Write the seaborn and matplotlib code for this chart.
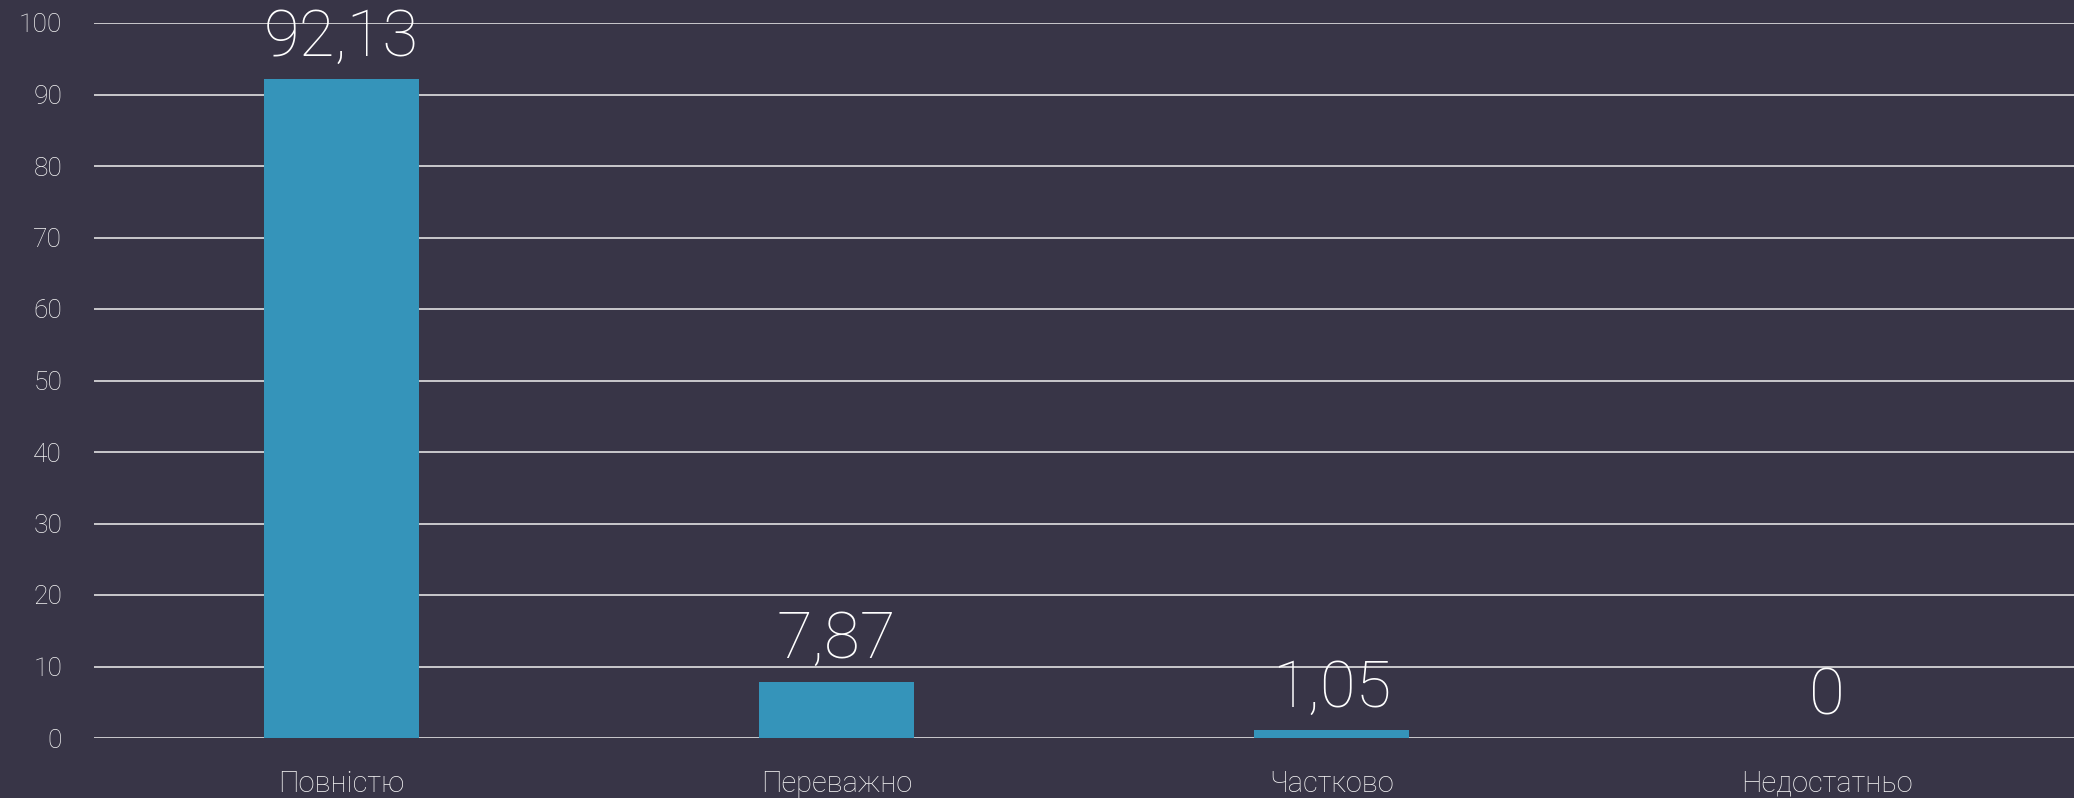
import matplotlib
matplotlib.use("Agg")
import matplotlib.pyplot as plt
import seaborn as sns
import pandas as pd

# data
categories = ["Повністю", "Переважно", "Частково", "Недостатньо"]
values = [92.13, 7.87, 1.05, 0]
value_labels = ["92,13", "7,87", "1,05", "0"]

bg = "#383547"
bar_color = "#3594ba"
text_color = "#f4f4f4"

sns.set_style("white", {"axes.facecolor": bg, "figure.facecolor": bg})
plt.rcParams["font.family"] = ["Roboto", "DejaVu Sans"]
plt.rcParams["font.weight"] = "light"

df = pd.DataFrame({"category": categories, "value": values})

fig = plt.figure(figsize=(20.74, 7.98), dpi=100)
ax = fig.add_axes([94 / 2074, 60 / 798, 1 - 94 / 2074, (738 - 23) / 798])

sns.barplot(data=df, x="category", y="value", color=bar_color, width=0.312,
            saturation=1, linewidth=0, ax=ax, zorder=3)

ax.set_ylim(0, 100)
ax.set_xlim(-0.5, 3.5)
ax.set_yticks(range(0, 101, 10))
ax.yaxis.grid(True, color="#f0f0f0", linewidth=1.1, zorder=1)
ax.set_axisbelow(True)
for s in ax.spines.values():
    s.set_visible(False)
ax.tick_params(axis="y", length=0, colors=text_color, labelsize=19, pad=23)
ax.tick_params(axis="x", length=0, colors=text_color, labelsize=21, pad=23)
ax.set_xlabel("")
ax.set_ylabel("")

# value labels above each bar
for i, (v, lab) in enumerate(zip(values, value_labels)):
    ax.annotate(lab, (i, v), xytext=(0, 17), textcoords="offset points",
                ha="center", va="baseline", fontsize=47, color="white",
                fontweight="light", zorder=5)

fig.savefig("out.png", dpi=100, facecolor=bg)
